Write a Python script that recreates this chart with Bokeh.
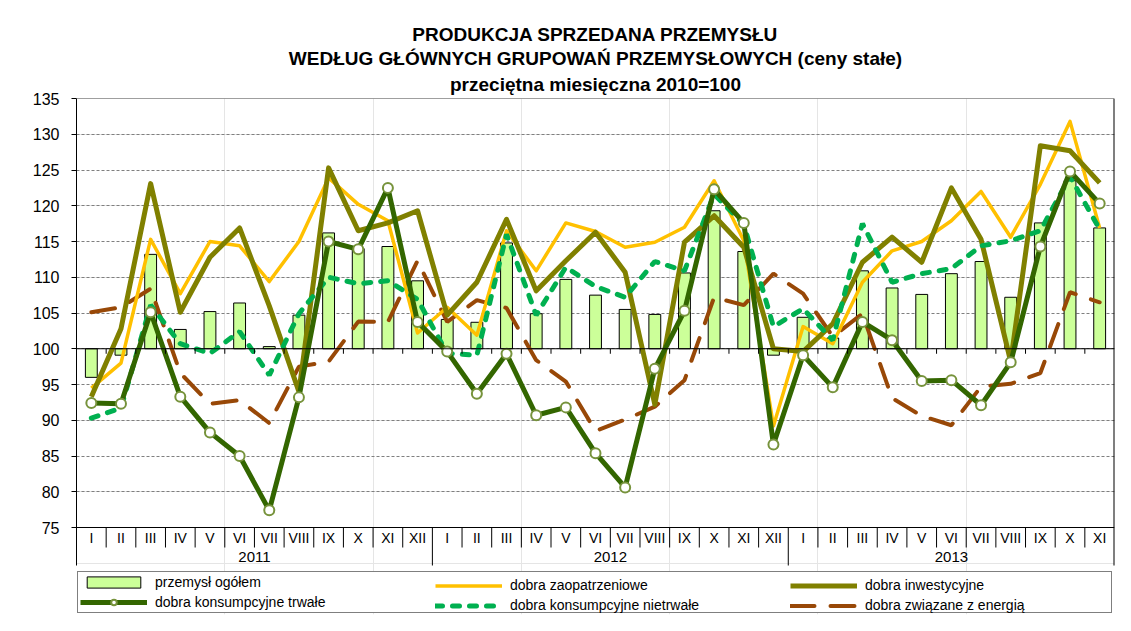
from bokeh.plotting import figure
from bokeh.models import (Range1d, LinearAxis, FixedTicker, Span, Legend, LegendItem,
                          Title, Grid)
from bokeh.embed import file_html
from bokeh.resources import INLINE
from bokeh.core.properties import value

FONT = "Liberation Sans"

months = ["I", "II", "III", "IV", "V", "VI", "VII", "VIII", "IX", "X", "XI", "XII",
          "I", "II", "III", "IV", "V", "VI", "VII", "VIII", "IX", "X", "XI", "XII",
          "I", "II", "III", "IV", "V", "VI", "VII", "VIII", "IX", "X", "XI"]
years = ["2011", "2012", "2013"]
year_counts = [12, 12, 11]
y_ticks = [75, 80, 85, 90, 95, 100, 105, 110, 115, 120, 125, 130, 135]

title_lines = ["PRODUKCJA SPRZEDANA PRZEMYSŁU",
               "WEDŁUG GŁÓWNYCH GRUPOWAŃ PRZEMYSŁOWYCH (ceny stałe)",
               "przeciętna miesięczna 2010=100"]

series_names = ["przemysł ogółem", "dobra zaopatrzeniowe", "dobra inwestycyjne",
                "dobra konsumpcyjne trwałe", "dobra konsumpcyjne nietrwałe",
                "dobra związane z energią"]

ogolem = [96.0, 99.1, 113.2, 102.7, 105.2, 106.4, 100.3, 104.7, 116.2, 114.0, 114.3, 109.5,
          104.1, 103.7, 114.8, 104.9, 109.7, 107.5, 105.5, 104.8, 110.6, 119.3, 113.6, 99.1,
          104.4, 101.5, 110.9, 108.5, 107.6, 110.5, 112.2, 107.2, 117.6, 123.5, 116.9]
zaopatrzeniowe = [94.5, 98.0, 115.3, 107.7, 115.0, 114.4, 109.4, 115.0, 123.9, 120.2, 117.9, 102.2,
                  105.8, 101.9, 116.5, 110.9, 117.6, 116.4, 114.2, 114.9, 117.0, 123.5, 115.1, 89.2,
                  103.1, 100.7, 109.3, 113.7, 115.0, 117.9, 122.0, 115.6, 123.0, 131.8, 116.9]
inwestycyjne = [93.3, 102.8, 123.1, 105.1, 112.8, 116.9, 106.0, 94.0, 125.3, 116.5, 117.6, 119.3,
                104.7, 109.3, 118.1, 108.1, 112.3, 116.3, 110.7, 92.2, 114.9, 118.6, 114.2, 100.0,
                99.6, 103.5, 112.1, 115.6, 112.1, 122.5, 115.3, 98.2, 128.4, 127.7, 123.2]
trwale = [92.4, 92.3, 105.1, 93.3, 88.3, 85.0, 77.4, 93.2, 115.0, 113.9, 122.5, 103.75,
          99.6, 93.7, 99.3, 90.7, 91.8, 85.4, 80.6, 97.2, 105.3, 122.3, 117.6, 86.6,
          99.1, 94.6, 103.75, 101.2, 95.5, 95.6, 92.1, 98.1, 114.3, 124.8, 120.3]
nietrwale = [90.3, 91.7, 106.1, 100.7, 99.35, 102.4, 96.3, 104.9, 110.0, 109.1, 109.5, 106.9,
             99.35, 99.1, 116.0, 104.7, 111.4, 108.7, 107.2, 112.2, 110.9, 121.6, 117.4, 103.1,
             105.6, 101.2, 117.5, 109.3, 110.5, 111.2, 114.4, 115.1, 116.5, 124.1, 116.7]
energia = [105.1, 105.8, 108.4, 96.6, 92.3, 92.8, 89.6, 97.5, 98.2, 103.8, 103.75, 112.3,
           103.75, 106.8, 105.7, 98.4, 95.4, 88.5, 90.1, 91.9, 95.6, 107.2, 106.1, 110.5,
           107.7, 101.7, 104.9, 93.1, 90.6, 89.3, 94.7, 95.1, 96.6, 107.9, 106.5]

n = len(months)
xs = [i + 0.5 for i in range(n)]

W, H = 1115, 615
LEFT, RIGHT, TOP, BOTTOM = 76, 1, 98, 1
PX_PER_UNIT = 7.15
frame_h = H - TOP - BOTTOM
y_lo = 135 - frame_h / PX_PER_UNIT
u = 1.0 / PX_PER_UNIT  # one pixel in data units

p = figure(width=W, height=H, output_backend="svg", toolbar_location=None,
           x_range=Range1d(0, n), y_range=Range1d(y_lo, 135),
           x_axis_location=None, y_axis_location=None,
           min_border_left=LEFT, min_border_right=RIGHT, min_border_top=TOP,
           min_border_bottom=BOTTOM)
p.outline_line_color = None
p.background_fill_color = "white"
p.border_fill_color = "white"

# titles: p.title is outermost, added Titles stack toward the frame
p.title.text = title_lines[0]
p.title.align = "center"
p.title.text_font = FONT
p.title.text_font_size = "19px"
p.title.text_font_style = "bold"
p.title.text_color = "black"
p.title.standoff = 1
for txt, so in [(title_lines[2], 7), (title_lines[1], 0)]:
    p.add_layout(Title(text=txt, align="center", text_font=FONT, text_font_size="19px",
                       text_font_style="bold", standoff=so, text_color="black"), "above")

y_row_bottom = 75 - 38 * u
y_month_sep = 75 - 20 * u
y_month_lbl = 75 - 10 * u
y_year_lbl = 75 - 29 * u

# y axis
yax = LinearAxis(ticker=FixedTicker(ticks=y_ticks), bounds=(y_row_bottom, 135),
                 major_tick_in=0, major_tick_out=5, minor_tick_in=0, minor_tick_out=0,
                 major_label_standoff=12, major_label_text_font=FONT,
                 major_label_text_font_size="16px", major_label_text_color="black",
                 axis_line_color="black", major_tick_line_color="black")
p.add_layout(yax, "left")

grid_ticks = [t for t in y_ticks if 75 < t < 135]
p.add_layout(Grid(dimension=1, ticker=FixedTicker(ticks=grid_ticks),
                  grid_line_color="#7f7f7f", grid_line_dash="3 2", grid_line_width=1))

# bars
bars = p.vbar(x=xs, top=ogolem, bottom=100, width=0.4, fill_color="#CCFF99",
              line_color="black", line_width=1)

# lines
r_en = p.line(xs, energia, line_color="#984807", line_width=4, line_dash="24 16",
              line_cap="round")
r_za = p.line(xs, zaopatrzeniowe, line_color="#FFC000", line_width=3.5, line_join="round")
r_in = p.line(xs, inwestycyjne, line_color="#808000", line_width=5, line_join="round")
r_ni = p.line(xs, nietrwale, line_color="#00B050", line_width=5, line_dash="7 10",
              line_cap="round")
r_tr = p.line(xs, trwale, line_color="#336600", line_width=5, line_join="round")
r_trm = p.scatter(xs, trwale, marker="circle", size=10, fill_color="white",
                  line_color="#77933C", line_width=2)

# axis structure lines
p.add_layout(Span(location=135, dimension="width", line_color="#404040", line_width=1))
p.add_layout(Span(location=100, dimension="width", line_color="black", line_width=1))
p.add_layout(Span(location=75, dimension="width", line_color="black", line_width=1))

boundaries = list(range(n + 1))
year_bounds = [0]
for c in year_counts:
    year_bounds.append(year_bounds[-1] + c)
month_bounds = [b for b in boundaries if b not in year_bounds]
inner = boundaries[1:-1]
p.segment(x0=inner, y0=[100] * len(inner), x1=inner, y1=[100 - 5 * u] * len(inner),
          line_color="black", line_width=1)
p.segment(x0=month_bounds, y0=[75] * len(month_bounds), x1=month_bounds,
          y1=[y_month_sep] * len(month_bounds), line_color="black", line_width=1)
yb_inner = year_bounds[1:-1]
p.segment(x0=yb_inner, y0=[75] * len(yb_inner), x1=yb_inner,
          y1=[y_row_bottom] * len(yb_inner), line_color="black", line_width=1)
p.segment(x0=[n], y0=[135], x1=[n], y1=[y_row_bottom], line_color="black", line_width=2)

p.text(x=xs, y=[y_month_lbl] * n, text=months, text_align="center", text_baseline="middle",
       text_font=value(FONT), text_font_size="14px", text_color="black")
year_x = []
for i, c in enumerate(year_counts):
    year_x.append(year_bounds[i] + c / 2)
p.text(x=year_x, y=[y_year_lbl] * len(years), text=years, text_align="center",
       text_baseline="middle", text_font=value(FONT), text_font_size="15px",
       text_color="black")

# legends
def mk_legend(items, x, lw, border, gh):
    lg = Legend(items=items, location=(x, 1), orientation="vertical",
                glyph_width=67, glyph_height=gh, label_height=16, label_width=lw,
                label_standoff=8, spacing=4, padding=2, margin=0,
                label_text_font=FONT, label_text_font_size="14px",
                label_text_color="black",
                border_line_color="black" if border else None, border_line_width=1,
                background_fill_color="white",
                background_fill_alpha=1 if border else 0)
    p.add_layout(lg)

mk_legend([LegendItem(label=series_names[0], renderers=[bars]),
           LegendItem(label=series_names[3], renderers=[r_tr, r_trm])], 1, 954, True, 14)
mk_legend([LegendItem(label=series_names[1], renderers=[r_za]),
           LegendItem(label=series_names[4], renderers=[r_ni])], 359, 200, False, 9)
mk_legend([LegendItem(label=series_names[2], renderers=[r_in]),
           LegendItem(label=series_names[5], renderers=[r_en])], 714, 200, False, 9)

open("out.html", "w").write(file_html(p, INLINE))
